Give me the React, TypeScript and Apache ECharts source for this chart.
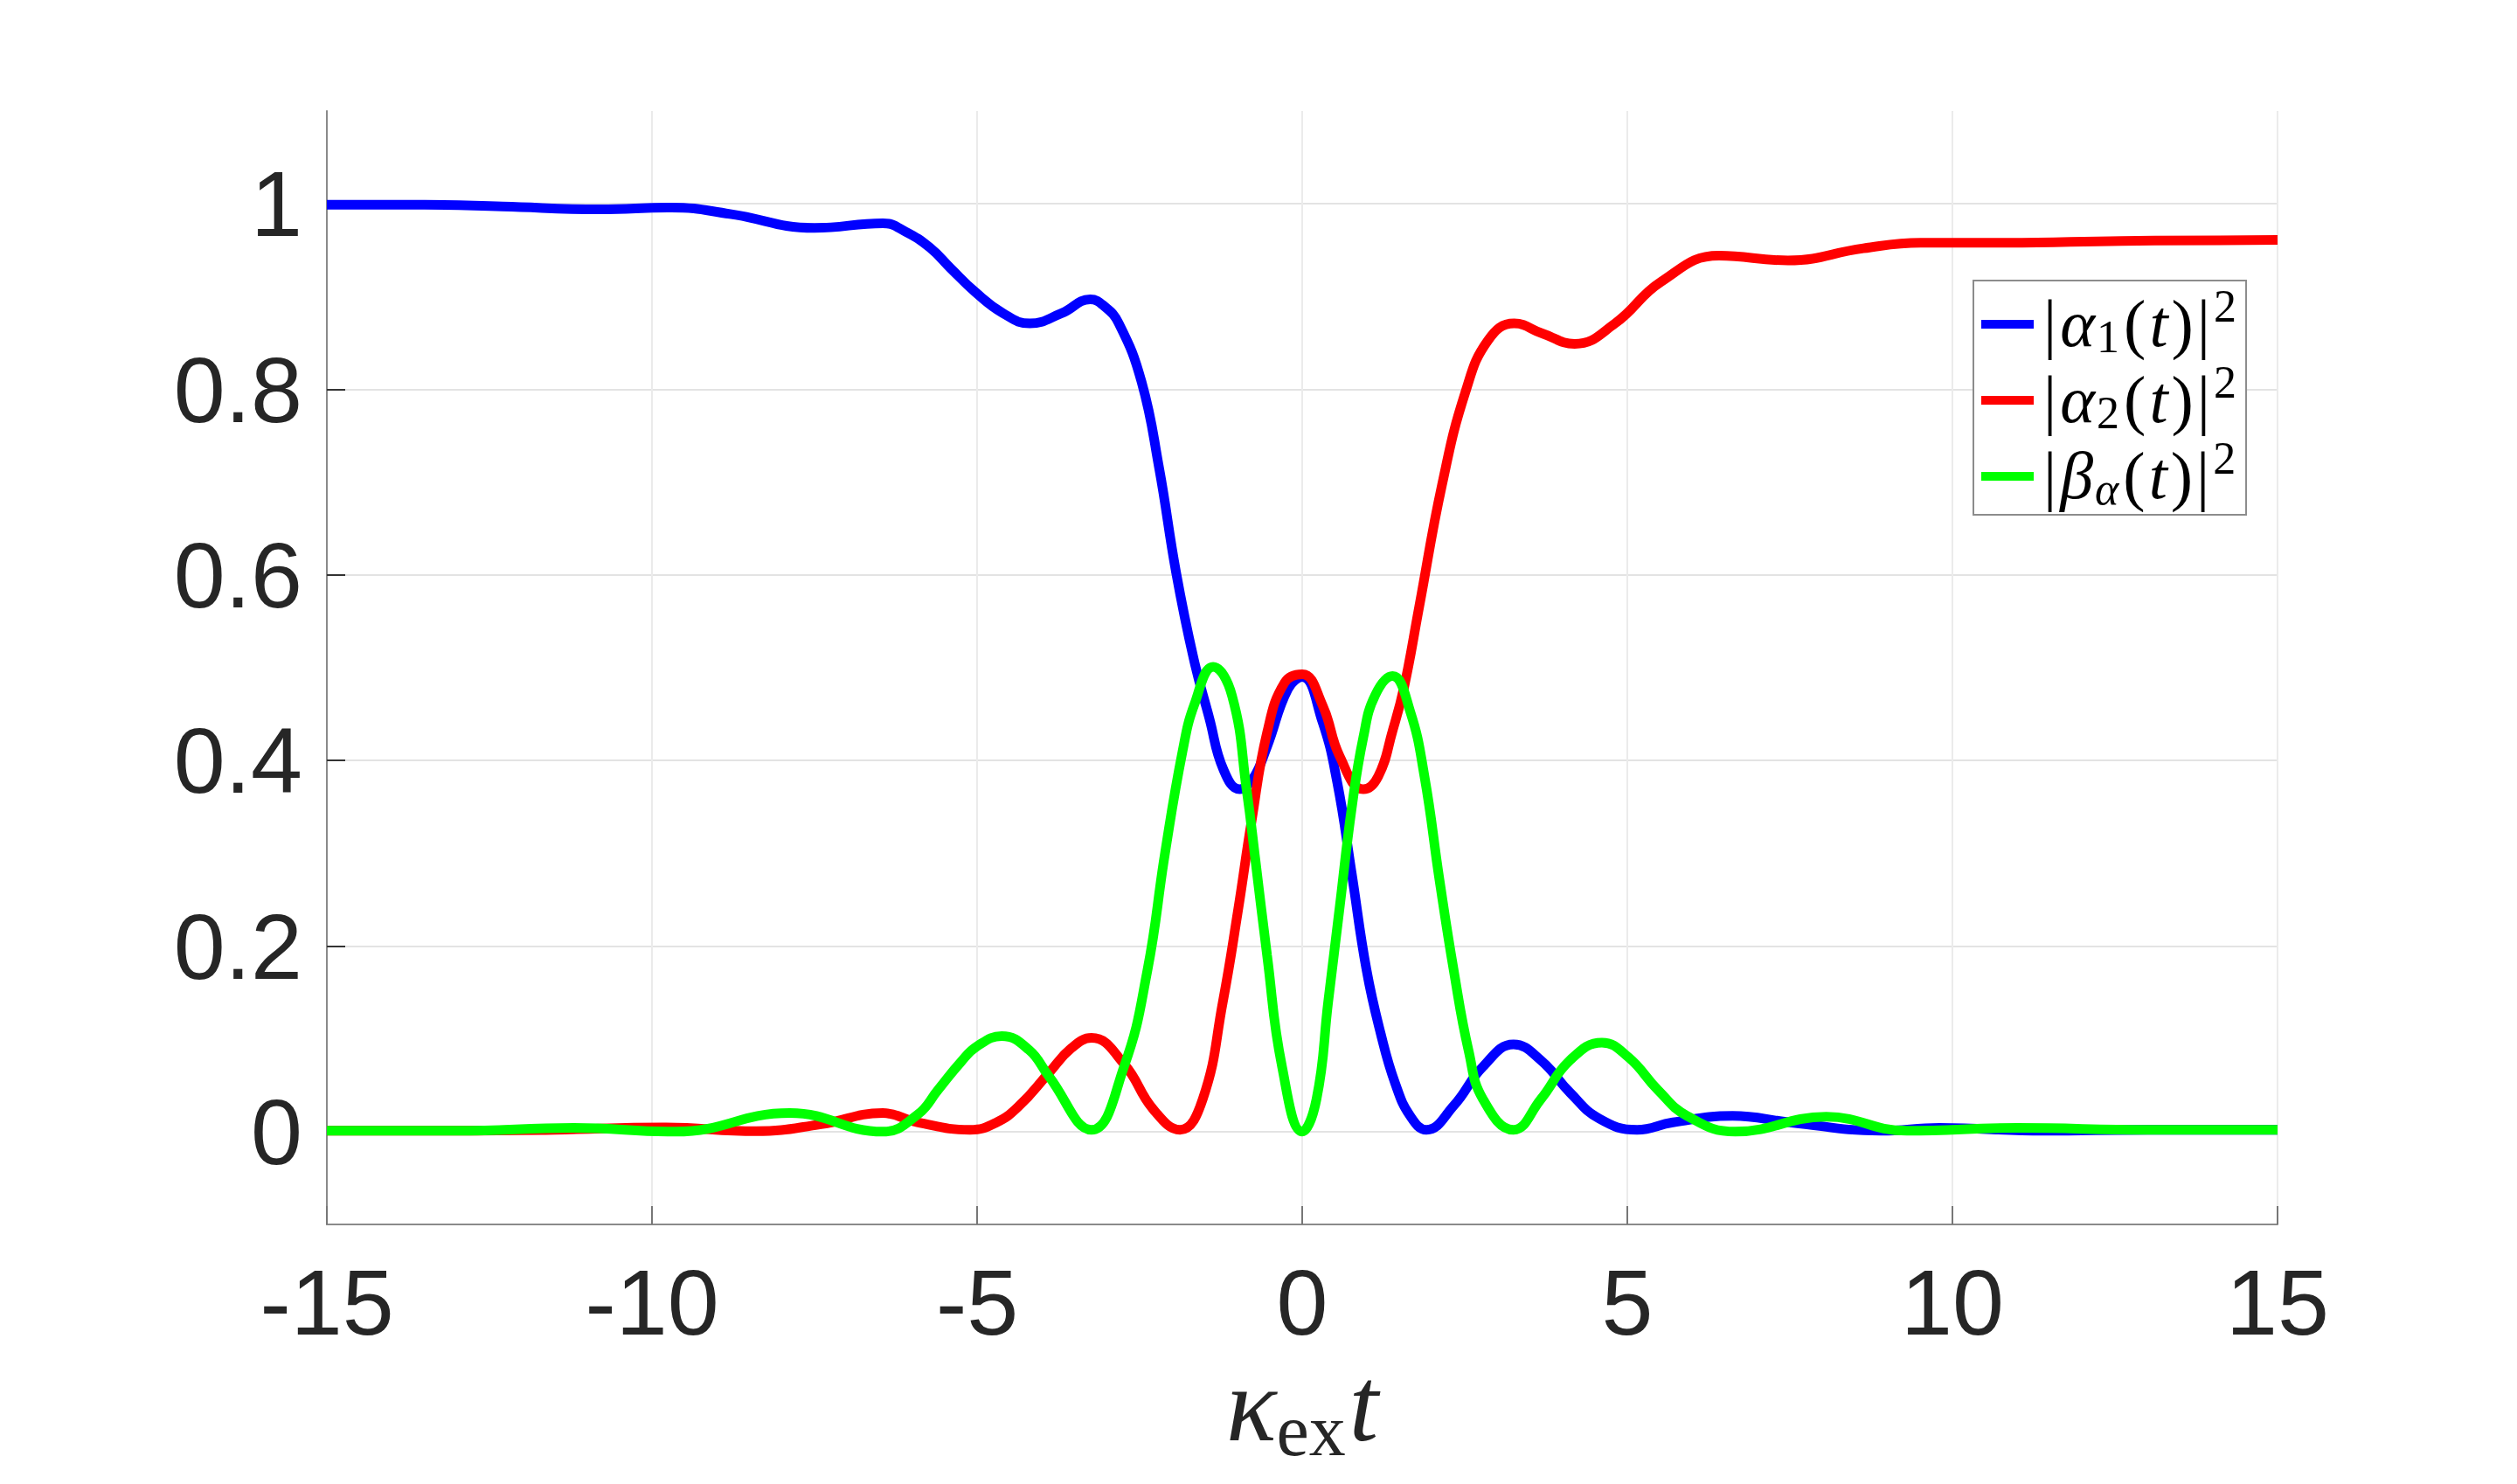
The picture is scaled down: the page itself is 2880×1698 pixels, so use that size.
import React, { useEffect, useRef } from "react";
import * as echarts from "echarts";

// ---- data ----
const X_TICKS = [-15, -10, -5, 0, 5, 10, 15];
const Y_TICKS = [0, 0.2, 0.4, 0.6, 0.8, 1];

const BLUE_X = [-15, -13.5, -12.3, -10.8, -9.7, -8.8, -7.5, -6.45, -6.1, -5.73, -5.4, -5.03, -4.6, -4.19, -3.7, -3.26, -3.05, -2.82, -2.47, -2.2, -1.94, -1.67, -1.43, -1.21, -0.96, -0.76, -0.54, -0.22, 0, 0.31, 0.54, 0.76, 0.99, 1.21, 1.43, 1.66, 1.91, 2.33, 2.78, 3.25, 3.67, 4.12, 4.57, 5.15, 5.7, 6.62, 7.5, 8.9, 9.8, 11.4, 13, 15];
const BLUE_Y = [0.999, 0.999, 0.997, 0.994, 0.996, 0.989, 0.974, 0.979, 0.97, 0.953, 0.93, 0.905, 0.882, 0.871, 0.882, 0.897, 0.89, 0.871, 0.808, 0.715, 0.603, 0.51, 0.446, 0.39, 0.369, 0.38, 0.415, 0.477, 0.49, 0.442, 0.376, 0.279, 0.174, 0.105, 0.052, 0.017, 0.002, 0.028, 0.07, 0.094, 0.077, 0.042, 0.014, 0.002, 0.01, 0.017, 0.01, 0.001, 0.004, 0.001, 0.002, 0.002];

const RED_X = [-15, -13, -11.5, -9.83, -8.4, -7.4, -6.45, -5.92, -5.11, -4.7, -4.35, -3.9, -3.55, -3.24, -2.74, -2.29, -1.88, -1.53, -1.22, -0.99, -0.78, -0.54, -0.27, 0, 0.31, 0.58, 0.94, 1.17, 1.39, 1.57, 1.8, 2.15, 2.51, 2.86, 3.26, 3.7, 4.19, 4.81, 5.52, 6.41, 7.47, 8.63, 9.51, 10.84, 12.6, 15];
const RED_Y = [0.001, 0.001, 0.002, 0.0045, 0.0005, 0.008, 0.02, 0.01, 0.002, 0.01, 0.028, 0.063, 0.09, 0.101, 0.073, 0.024, 0.002, 0.035, 0.14, 0.237, 0.334, 0.43, 0.484, 0.493, 0.46, 0.404, 0.369, 0.383, 0.432, 0.48, 0.566, 0.697, 0.797, 0.853, 0.871, 0.86, 0.849, 0.871, 0.916, 0.944, 0.939, 0.952, 0.958, 0.958, 0.96, 0.961];

const GREEN_X = [-15, -13, -11.2, -9.64, -7.88, -6.45, -5.92, -5.6, -5.25, -5.0, -4.62, -4.2, -3.9, -3.24, -2.74, -2.38, -2.11, -1.84, -1.66, -1.37, -1.08, -0.85, -0.72, -0.54, -0.31, 0, 0.22, 0.4, 0.58, 0.76, 0.94, 1.12, 1.39, 1.66, 1.88, 2.11, 2.33, 2.56, 2.78, 3.25, 3.67, 4.12, 4.61, 5.02, 5.47, 5.92, 6.66, 8.06, 9.3, 11.0, 13, 15];
const GREEN_Y = [0.001, 0.001, 0.004, 0.0, 0.02, 0.0, 0.018, 0.045, 0.075, 0.092, 0.103, 0.088, 0.06, 0.002, 0.07, 0.174, 0.3, 0.41, 0.46, 0.501, 0.47, 0.366, 0.293, 0.19, 0.07, 0.0, 0.035, 0.14, 0.244, 0.348, 0.425, 0.47, 0.491, 0.453, 0.383, 0.272, 0.174, 0.087, 0.035, 0.002, 0.035, 0.077, 0.096, 0.08, 0.045, 0.017, 0.0, 0.016, 0.001, 0.004, 0.002, 0.002];

const NAMES = ["|α1(t)|^2", "|α2(t)|^2", "|βα(t)|^2"];
const COLORS = ["#0000ff", "#ff0000", "#00ff00"];
const LEGEND_RICH_TEXT: Record<string, string> = {
  "|α1(t)|^2": "{b||}{g|α}{sub|1}{n|(}{g|t}{n|)}{n||}{sup|2}",
  "|α2(t)|^2": "{b||}{g|α}{sub|2}{n|(}{g|t}{n|)}{n||}{sup|2}",
  "|βα(t)|^2": "{b||}{g|β}{subi|α}{n|(}{g|t}{n|)}{n||}{sup|2}",
};

const zip = (xs: number[], ys: number[]) => xs.map((x, i) => [x, ys[i]]);

const SERIF = "'Liberation Serif', 'DejaVu Serif', serif";
const SANS = "'Liberation Sans', Arial, Helvetica, sans-serif";
const TXT = "#262626";

export default function App() {
  const ref = useRef<HTMLDivElement>(null);
  useEffect(() => {
    if (!ref.current) return;
    const chart = echarts.init(ref.current, undefined, { renderer: "svg" });
    const seriesData = [zip(BLUE_X, BLUE_Y), zip(RED_X, RED_Y), zip(GREEN_X, GREEN_Y)];
    const main = { fontFamily: SERIF, fontSize: 76, lineHeight: 80, padding: [0, 2, 3, 2], verticalAlign: "bottom", color: "#000" };
    const small = { fontFamily: SERIF, fontSize: 52, lineHeight: 52, verticalAlign: "bottom", color: "#000" };
    chart.setOption({
      animation: false,
      backgroundColor: "#ffffff",
      grid: { left: 374, right: 274, top: 127, bottom: 297, containLabel: false },
      xAxis: {
        type: "value",
        min: -15,
        max: 15,
        interval: 5,
        axisLine: { show: true, onZero: false, lineStyle: { color: "#8a8a8a", width: 2 } },
        axisTick: { show: true, inside: true, length: 21, lineStyle: { color: "#777", width: 2 } },
        axisLabel: { color: TXT, fontFamily: SANS, fontSize: 106, margin: 36 },
        splitLine: { show: true, lineStyle: { color: "#ebebeb", width: 2 } },
        name: "{k|κ}{s|ex}{k|t}",
        nameLocation: "middle",
        nameGap: 147,
        nameTextStyle: {
          rich: {
            k: { fontFamily: SERIF, fontStyle: "italic", fontSize: 120, lineHeight: 130, padding: [0, 0, 11, 0], verticalAlign: "bottom", color: TXT },
            s: { fontFamily: SERIF, fontSize: 84, lineHeight: 90, padding: [0, 4, 0, 0], verticalAlign: "bottom", color: TXT },
          },
        },
      },
      yAxis: {
        type: "value",
        min: -0.1,
        max: 1.1,
        axisLine: { show: true, onZero: false, lineStyle: { color: "#8a8a8a", width: 2 } },
        axisTick: { show: true, inside: true, length: 21, customValues: Y_TICKS, lineStyle: { color: "#333", width: 2 } },
        axisLabel: { color: TXT, fontFamily: SANS, fontSize: 106, margin: 28, customValues: Y_TICKS, formatter: (v: number) => String(Math.round(v * 10) / 10) },
        splitLine: { show: true, lineStyle: { color: "#e3e3e3", width: 2 } },
      },
      legend: {
        show: true,
        orient: "vertical",
        left: 2258,
        top: 321,
        data: NAMES,
        icon: "rect",
        itemWidth: 60,
        itemHeight: 10,
        itemGap: 0,
        selectedMode: false,
        backgroundColor: "#ffffff",
        borderColor: "#8c8c8c",
        borderWidth: 2,
        borderRadius: 0,
        padding: [3, 11, 4, 9],
        formatter: (name: string) => LEGEND_RICH_TEXT[name] || name,
        textStyle: {
          rich: {
            b: { ...main, padding: [0, 2, 3, 6] },
            n: main,
            g: { ...main, fontStyle: "italic" },
            sub: { ...small, padding: [0, 3, 0, 0] },
            subi: { ...small, fontStyle: "italic", padding: [0, 3, 0, 0] },
            sup: { ...small, padding: [0, 0, 35, 2] },
          },
        },
      },
      series: NAMES.map((name, i) => ({
        name,
        type: "line",
        data: seriesData[i],
        showSymbol: false,
        smooth: 0.45,
        lineStyle: { color: COLORS[i], width: 11 },
        itemStyle: { color: COLORS[i] },
        emphasis: { disabled: true },
        z: 2 + i,
      })),
    });
    return () => chart.dispose();
  }, []);
  return <div ref={ref} style={{ position: "fixed", left: 0, top: 0, width: "2880px", height: "1698px" }} />;
}
